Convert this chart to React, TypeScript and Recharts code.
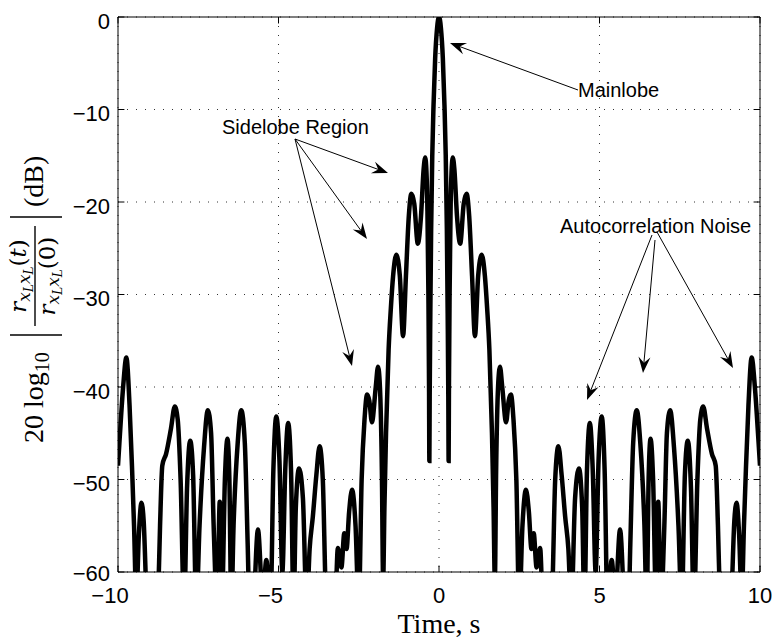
import { LineChart, Line, XAxis, YAxis, CartesianGrid, ReferenceLine } from 'recharts';

// one-sided lag (s) -> normalised autocorrelation level (dB).
// r(t) is even, so negative lags are the mirror image of these.
const halfCurve: [number, number][] = [
  [0, 0], [0.06, -1.2], [0.12, -4.5], [0.17, -9.5], [0.21, -15], [0.245, -23], [0.27, -32],
  [0.29, -41], [0.3, -48], [0.31, -40], [0.33, -30], [0.36, -21], [0.39, -16.8], [0.43, -15.2],
  [0.48, -16.5], [0.56, -21.5], [0.66, -24.5], [0.77, -20.2], [0.86, -19.1], [0.94, -21.5],
  [1.03, -28], [1.12, -34.5], [1.22, -28], [1.33, -25.7], [1.43, -28], [1.5, -31.5], [1.57, -36],
  [1.65, -45], [1.7, -53], [1.74, -61], [1.78, -49], [1.84, -40], [1.9, -37.8], [1.97, -40],
  [2.09, -43.8], [2.17, -41.5], [2.24, -40.8], [2.32, -43.5], [2.41, -50], [2.5, -64], [2.6, -55],
  [2.71, -51.1], [2.8, -53.5], [2.88, -57.5], [2.95, -55.8], [3.04, -59.5], [3.15, -57.4],
  [3.22, -63], [3.38, -72], [3.54, -61], [3.62, -50], [3.72, -46.4], [3.82, -49.5], [3.93, -54],
  [4.03, -57.5], [4.12, -64], [4.24, -52], [4.36, -48.8], [4.46, -53], [4.53, -64], [4.61, -49],
  [4.7, -43.9], [4.79, -49], [4.88, -60], [4.97, -48], [5.07, -43.2], [5.16, -49], [5.25, -64],
  [5.38, -58.7], [5.49, -63], [5.64, -55.4], [5.76, -63], [5.86, -70], [5.96, -57], [6.05, -46],
  [6.16, -42.5], [6.27, -46], [6.4, -55], [6.47, -64], [6.53, -50], [6.59, -45.6], [6.67, -50],
  [6.76, -63], [6.83, -52.4], [6.91, -64], [7.02, -55], [7.1, -45], [7.2, -42.5], [7.32, -46.5],
  [7.46, -55], [7.56, -64], [7.66, -49.5], [7.75, -45.8], [7.85, -51], [7.94, -64], [8.05, -50],
  [8.14, -43.5], [8.23, -42.1], [8.35, -44.5], [8.5, -47.2], [8.62, -48.5], [8.69, -55],
  [8.76, -64], [8.94, -72], [9.12, -62], [9.2, -54.5], [9.27, -52.5], [9.35, -56], [9.43, -63],
  [9.5, -55], [9.56, -49], [9.64, -42], [9.74, -36.8], [9.84, -40], [9.95, -45.7], [10, -48.5],
];

const xTicks = [-10, -5, 0, 5, 10];
const yTicks = [-60, -50, -40, -30, -20, -10, 0];

const data = [
  ...halfCurve.slice(1).map(([t, db]) => ({ t: -t, level: db })).reverse(),
  ...halfCurve.map(([t, db]) => ({ t, level: db })),
];

const W = 774;
const H = 641;
const SANS = '"Liberation Sans", Arial, Helvetica, sans-serif';
const SERIF = '"Liberation Serif", "Times New Roman", serif';
const MATH = '"DejaVu Serif", "Liberation Serif", serif';

// text annotations with arrows, in figure pixels (like MATLAB annotation())
const notes = [
  { text: 'Mainlobe', x: 578, y: 97, arrows: [[578, 90, 450, 43]] },
  {
    text: 'Sidelobe Region', x: 222, y: 134,
    arrows: [[295, 139, 388, 173], [295, 139, 367, 239], [295, 139, 352, 366]],
  },
  {
    text: 'Autocorrelation Noise', x: 560, y: 233,
    arrows: [[652, 235, 587, 400], [655, 240, 643, 373], [657, 232, 733, 368]],
  },
];

const minus = (v: number) => (v < 0 ? `\u2212${Math.abs(v)}` : `${v}`);

function XTick({ x, y, payload }: any) {
  const v = payload.value;
  return (
    <text x={x + (v < 0 ? -8 : 0)} y={y} dy="0.71em" textAnchor="middle"
      fontFamily={SANS} fontSize={22} fill="#000">
      {minus(v)}
    </text>
  );
}

function YTick({ x, y, payload }: any) {
  const v = payload.value;
  return (
    <text x={x} y={y + (v === -60 ? 1 : 4)} dy="0.355em" textAnchor="end"
      fontFamily={SANS} fontSize={22} fill="#000">
      {minus(v)}
    </text>
  );
}

function Arrow({ seg }: { seg: number[] }) {
  const [x1, y1, x2, y2] = seg;
  const len = Math.hypot(x2 - x1, y2 - y1);
  const ux = (x2 - x1) / len;
  const uy = (y2 - y1) / len;
  const L = 16;
  const hw = 6;
  const bx = x2 - L * ux;
  const by = y2 - L * uy;
  const nx = x2 - 0.65 * L * ux;
  const ny = y2 - 0.65 * L * uy;
  const pts = [
    [x2, y2],
    [bx - hw * uy, by + hw * ux],
    [nx, ny],
    [bx + hw * uy, by - hw * ux],
  ].map((p) => p.join(',')).join(' ');
  return (
    <g>
      <line x1={x1} y1={y1} x2={nx} y2={ny} stroke="#000" strokeWidth={1} />
      <polygon points={pts} fill="#000" />
    </g>
  );
}

// r_{x_L x_L}(arg)
function RatioTerm({ u, v, arg }: { u: number; v: number; arg: string }) {
  return (
    <text x={u} y={v} textAnchor="middle" fontFamily={MATH} fontSize={23} fill="#000">
      <tspan fontStyle="italic">r</tspan>
      <tspan fontStyle="italic" fontSize={17} dy={4}>x</tspan>
      <tspan fontStyle="italic" fontSize={12} dy={3}>L</tspan>
      <tspan fontStyle="italic" fontSize={17} dy={-3}>x</tspan>
      <tspan fontStyle="italic" fontSize={12} dy={3}>L</tspan>
      <tspan dy={-7}>(</tspan>
      <tspan fontStyle={arg === 't' ? 'italic' : 'normal'}>{arg}</tspan>
      <tspan>)</tspan>
    </text>
  );
}

function Overlay() {
  return (
    <svg width={W} height={H} style={{ position: 'absolute', left: 0, top: 0, pointerEvents: 'none' }}>
      {notes.map((n) => (
        <g key={n.text}>
          <text x={n.x} y={n.y} fontFamily={SANS} fontSize={20} fill="#000">{n.text}</text>
          {n.arrows.map((a, i) => <Arrow key={i} seg={a} />)}
        </g>
      ))}
      <text x={439} y={633} textAnchor="middle" fontFamily={SERIF} fontSize={28} fill="#000">
        Time, s
      </text>
      <g transform="translate(0,443) rotate(-90)">
        <text x={0} y={43} fontFamily={SERIF} fontSize={28} fill="#000">
          20 log<tspan fontSize={20} dy={6}>10</tspan>
        </text>
        <line x1={108} y1={10} x2={108} y2={62} stroke="#000" strokeWidth={1.6} />
        <line x1={117} y1={35} x2={217} y2={35} stroke="#000" strokeWidth={1.4} />
        <RatioTerm u={167} v={26} arg="t" />
        <RatioTerm u={167} v={55} arg="0" />
        <line x1={226} y1={10} x2={226} y2={62} stroke="#000" strokeWidth={1.6} />
        <text x={236} y={43} fontFamily={SERIF} fontSize={28} fill="#000">(dB)</text>
      </g>
    </svg>
  );
}

export default function App() {
  return (
    <div style={{ position: 'absolute', left: 0, top: 0, width: W, height: H, background: '#fff' }}>
      <LineChart width={W} height={H} data={data} margin={{ top: 17, right: 14, bottom: 0, left: 58 }}>
        <CartesianGrid stroke="#333" strokeDasharray="1 8" />
        <XAxis
          dataKey="t" type="number" domain={[-10, 10]} ticks={xTicks} height={69}
          tickLine={false} tickSize={0} tickMargin={15} tick={<XTick />}
          axisLine={{ stroke: '#000' }} allowDataOverflow
        />
        <YAxis
          type="number" domain={[-60, 0]} ticks={yTicks} width={60}
          tickLine={false} tickSize={0} tickMargin={8} tick={<YTick />}
          axisLine={{ stroke: '#000' }} allowDataOverflow
        />
        {xTicks.map((v) => (
          <ReferenceLine key={`xb${v}`} segment={[{ x: v, y: -60 }, { x: v, y: -59.3 }]} stroke="#000" />
        ))}
        {xTicks.map((v) => (
          <ReferenceLine key={`xt${v}`} segment={[{ x: v, y: 0 }, { x: v, y: -0.7 }]} stroke="#000" />
        ))}
        {yTicks.map((v) => (
          <ReferenceLine key={`yl${v}`} segment={[{ x: -10, y: v }, { x: -9.8, y: v }]} stroke="#000" />
        ))}
        {yTicks.map((v) => (
          <ReferenceLine key={`yr${v}`} segment={[{ x: 10, y: v }, { x: 9.8, y: v }]} stroke="#000" />
        ))}
        <Line
          type="monotone" dataKey="level" stroke="#000" strokeWidth={4.5}
          dot={false} activeDot={false} isAnimationActive={false}
        />
        <ReferenceLine y={0} stroke="#000" />
        <ReferenceLine x={10} stroke="#000" />
      </LineChart>
      <Overlay />
    </div>
  );
}
